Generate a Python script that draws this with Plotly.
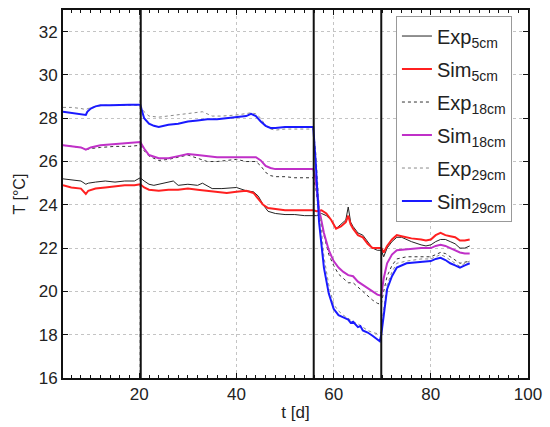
import plotly.graph_objects as go

# ---------------- data ----------------
t_exp5 = [4.3,6,8,9,9.5,11,13,15,17,19,20.2,21,22,23,25,27,28,30,32,33,35,37,40,42,43.5,44.5,45.5,46.5,48,50,52,54,55.8,
          56.5,57.5,58.5,59.5,60.5,61.5,62.5,63,63.5,64,65,66,67,68,69,69.8,
          70.3,71,72,73,74,76,78,79,80,81,82,83,84,85,86,87,88]
v_exp5 = [25.2,25.15,25.1,24.95,25.0,25.05,25.1,25.05,25.1,25.1,25.25,25.1,24.95,24.9,25.0,25.1,24.9,24.95,24.9,25.0,24.75,24.75,24.8,24.65,24.6,24.4,24.0,23.7,23.6,23.55,23.55,23.5,23.5,
          23.5,23.6,23.5,23.3,22.9,23.1,23.3,23.9,23.2,23.0,22.7,22.6,22.3,22.0,21.9,21.9,
          21.6,22.0,22.3,22.5,22.5,22.3,22.15,22.1,22.15,22.3,22.4,22.4,22.3,22.2,22.0,22.0,22.1]

t_sim5 = [4.3,6,8,9,9.5,11,13,15,17,19,20.2,21,22,24,26,28,30,32,34,36,38,40,42,43.5,44.5,45.5,46.5,48,50,52,54,55.8,
          56.5,57.5,58.5,59.5,60.5,61.5,62.5,63,63.5,64,65,66,67,68,69,69.8,
          70.3,71,72,73,74,76,78,79,80,81,82,83,84,85,86,87,88]
v_sim5 = [24.9,24.8,24.75,24.5,24.65,24.75,24.8,24.85,24.9,24.9,24.95,24.8,24.7,24.65,24.7,24.7,24.75,24.7,24.65,24.6,24.55,24.6,24.65,24.55,24.3,24.0,23.85,23.8,23.75,23.75,23.75,23.75,
          23.7,23.75,23.6,23.3,22.9,23.0,23.2,23.5,23.1,22.9,22.6,22.5,22.2,22.0,22.0,22.0,
          21.8,22.1,22.4,22.6,22.55,22.45,22.4,22.35,22.4,22.6,22.7,22.6,22.55,22.5,22.35,22.35,22.4]

t_18 = [4.3,6,8,9,10,12,15,18,20.2,21,22,24,26,28,30,32,34,36,38,40,42,44,45,46,47,48,50,52,54,55.8,
        56.3,57,58,59,60,61,62,63,64,65,66,67,68,69,69.8,
        70.3,71,72,73,75,78,80,81,82,83,84,85,86,87,88]
v_exp18 = [26.75,26.7,26.65,26.55,26.6,26.65,26.7,26.7,26.75,26.5,26.25,26.05,26.1,26.2,26.3,26.15,26.0,26.0,26.05,26.1,26.0,26.0,25.8,25.5,25.35,25.3,25.3,25.25,25.25,25.25,
           24.8,23.6,22.6,21.7,21.2,20.8,20.6,20.4,20.4,20.2,20.0,19.8,19.6,19.45,19.4,
           20.0,20.7,21.2,21.5,21.6,21.6,21.6,21.7,21.8,21.75,21.6,21.45,21.3,21.35,21.4]
v_sim18 = [26.75,26.7,26.65,26.55,26.65,26.75,26.8,26.85,26.9,26.6,26.3,26.15,26.15,26.25,26.35,26.3,26.25,26.2,26.2,26.2,26.2,26.2,26.05,25.8,25.7,25.65,25.65,25.65,25.65,25.65,
           25.2,23.8,22.7,21.9,21.4,21.1,20.9,20.75,20.7,20.45,20.3,20.15,20.0,19.85,19.8,
           20.6,21.3,21.7,21.9,21.95,22.0,22.0,22.1,22.15,22.1,22.0,21.9,21.8,21.75,21.75]

t_exp29 = [4.3,6,8,9,9.5,11,13,16,18,20.2,21,22,24,26,28,30,32,33,35,37,40,42,43,44,45,46,47,48,50,52,54,55.8,
           56.3,57,58,59,60,61,62,63,64,65,66,67,68,69,69.8,
           70.3,71,72,73,75,78,80,81,82,83,84,85,86,87,88]
v_exp29 = [28.5,28.5,28.45,28.4,28.45,28.55,28.6,28.6,28.6,28.6,28.3,28.1,28.05,28.1,28.15,28.2,28.25,28.3,28.1,28.1,28.15,28.2,28.25,28.2,28.0,27.65,27.5,27.45,27.5,27.5,27.5,27.5,
           26.5,24.0,21.6,20.3,19.4,19.1,18.9,18.75,18.6,18.5,18.35,18.2,18.1,18.05,18.1,
           19.2,20.3,20.9,21.3,21.4,21.5,21.5,21.6,21.7,21.6,21.45,21.3,21.15,21.3,21.4]

t_sim29 = [4.3,6,8,9,9.3,10,11,12,14,16,18,20.2,21,22,23,24,26,28,30,32,34,36,38,40,42,43,44,45,46,47,48,50,52,54,55.8,
           56.3,57,58,59,60,61,62,63,63.5,64,65,65.5,66,67,68,69,69.5,69.8,
           70.3,71,72,73,75,78,80,81,82,83,84,85,86,87,88]
v_sim29 = [28.3,28.25,28.2,28.15,28.3,28.45,28.55,28.6,28.6,28.62,28.62,28.62,28.0,27.75,27.65,27.6,27.7,27.75,27.85,27.9,27.95,27.95,28.0,28.05,28.1,28.2,28.1,27.85,27.65,27.55,27.55,27.6,27.6,27.6,27.6,
           26.0,23.2,21.1,19.9,19.2,18.9,18.8,18.7,18.55,18.6,18.35,18.4,18.2,18.1,17.95,17.8,17.7,18.0,
           19.0,20.1,20.7,21.1,21.3,21.35,21.4,21.5,21.55,21.45,21.3,21.2,21.1,21.2,21.3]

phase_lines = [20.3, 55.9, 69.8]
x_ticks = [20, 40, 60, 80, 100]
y_ticks = [16, 18, 20, 22, 24, 26, 28, 30, 32]

# ---------------- figure ----------------
fig = go.Figure()
series = [
    ("Exp<sub>5cm</sub>", t_exp5, v_exp5, "#222222", 1, "solid"),
    ("Sim<sub>5cm</sub>", t_sim5, v_sim5, "#ff2020", 2, "solid"),
    ("Exp<sub>18cm</sub>", t_18, v_exp18, "#333333", 1, "dot"),
    ("Sim<sub>18cm</sub>", t_18, v_sim18, "#c030c8", 2, "solid"),
    ("Exp<sub>29cm</sub>", t_exp29, v_exp29, "#8a8a8a", 1, "dot"),
    ("Sim<sub>29cm</sub>", t_sim29, v_sim29, "#1a1aff", 2, "solid"),
]
for i, (name, t, v, c, w, d) in enumerate(series):
    fig.add_trace(go.Scatter(x=t, y=v, mode="lines", name=name, legendgroup=f"g{i}",
                             line=dict(color=c, width=w, dash=d)))

for xv in phase_lines:
    fig.add_shape(type="line", xref="x", yref="paper", x0=xv, x1=xv, y0=0, y1=1,
                  line=dict(color="#111111", width=2))

axis_common = dict(showline=True, linecolor="#111111", linewidth=2, mirror="allticks",
                   ticks="inside", ticklen=5, tickcolor="#111111",
                   showgrid=True, gridcolor="#c4c4c4", griddash="dot", gridwidth=1,
                   zeroline=False, tickfont=dict(size=17, color="#222"))

fig.update_xaxes(range=[4.3, 100], tickvals=x_ticks, **axis_common,
                 minor=dict(dtick=2, ticks="inside", ticklen=3, tickcolor="#111111", showgrid=False),
                 title=dict(text="t [d]", font=dict(size=17, color="#222"), standoff=3))
fig.update_yaxes(range=[16, 33], tickvals=y_ticks, **axis_common,
                 title=dict(text="T [°C]", font=dict(size=16, color="#222"), standoff=9))

fig.update_layout(
    width=550, height=427,
    margin=dict(l=63, r=19, t=8, b=49),
    paper_bgcolor="white", plot_bgcolor="white",
    font=dict(family="Liberation Sans, Arial, sans-serif", color="#222"),
    showlegend=True,
    legend=dict(x=0.716, y=0.985, xanchor="left", yanchor="top",
                bgcolor="white", bordercolor="#999999", borderwidth=1,
                font=dict(size=20), tracegroupgap=4, itemwidth=30),
)

fig.write_html("out.html", config={"displayModeBar": False},
               post_script="document.body.style.margin='0';document.body.style.overflow='hidden';")
